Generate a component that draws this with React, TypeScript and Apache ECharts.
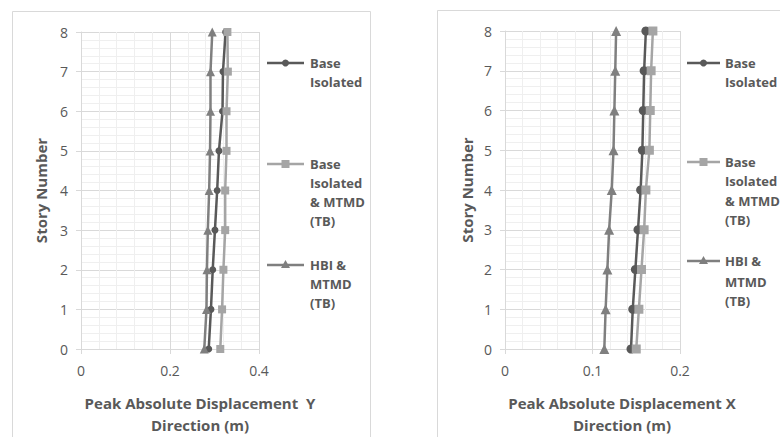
import React, { useEffect, useRef } from "react";
import * as echarts from "echarts";

const stories = [0, 1, 2, 3, 4, 5, 6, 7, 8];

// Left panel: Y direction (m)
const yBaseIsolated = [0.287, 0.292, 0.296, 0.301, 0.306, 0.310, 0.318, 0.319, 0.325];
const yBaseIsoMTMD = [0.313, 0.317, 0.320, 0.324, 0.324, 0.327, 0.327, 0.330, 0.329];
const yHBIMTMD = [0.277, 0.282, 0.283, 0.285, 0.288, 0.290, 0.291, 0.291, 0.295];

// Right panel: X direction (m)
const xBaseIsolated = [0.144, 0.146, 0.149, 0.152, 0.155, 0.157, 0.158, 0.159, 0.161];
const xBaseIsoMTMD = [0.150, 0.153, 0.156, 0.159, 0.161, 0.165, 0.166, 0.167, 0.169];
const xHBIMTMD = [0.1135, 0.115, 0.117, 0.119, 0.122, 0.124, 0.125, 0.126, 0.127];

const seriesNames = ["Base Isolated", "Base Isolated & MTMD (TB)", "HBI & MTMD (TB)"];
const legendLines = [["Base", "Isolated"], ["Base", "Isolated", "& MTMD", "(TB)"], ["HBI &", "MTMD", "(TB)"]];
const xTitleLeft = ["Peak Absolute Displacement  Y", "Direction (m)"];
const xTitleRight = ["Peak Absolute Displacement X", "Direction (m)"];
const yTitle = "Story Number";

const C1 = "#595959";
const C2 = "#A5A5A5";
const C3 = "#7F7F7F";
const colors = [C1, C2, C3];
const symbols = ["circle", "rect", "triangle"];
const FONT = "'Open Sans', sans-serif";
const TXT = "#595959";

function pairs(xs: number[]) {
  return xs.map((v, i) => [v, stories[i]]);
}

function makeAxes(idx: number, max: number, interval: number, gap: number) {
  const x = {
    type: "value",
    gridIndex: idx,
    min: 0,
    max,
    interval,
    axisLine: { show: true, lineStyle: { color: "#D9D9D9", width: 1 } },
    axisTick: { show: true, length: 5, lineStyle: { color: "#D9D9D9" } },
    axisLabel: { color: TXT, fontFamily: FONT, fontSize: 14, margin: 14, formatter: (v: number) => String(+v.toFixed(2)) },
    splitLine: { show: true, lineStyle: { color: "#D9D9D9", width: 1 } },
    minorTick: { show: false, splitNumber: 5 },
    minorSplitLine: { show: true, lineStyle: { color: "#EFEFEF", width: 1 } },
  };
  const y = {
    type: "value",
    gridIndex: idx,
    min: 0,
    max: 8,
    interval: 1,
    name: yTitle,
    nameLocation: "middle",
    nameRotate: 90,
    nameGap: gap,
    nameTextStyle: { color: TXT, fontFamily: FONT, fontSize: 15, fontWeight: "bold" },
    axisLine: { show: true, lineStyle: { color: "#D9D9D9", width: 1 } },
    axisTick: { show: true, length: 5, lineStyle: { color: "#D9D9D9" } },
    axisLabel: { color: TXT, fontFamily: FONT, fontSize: 14, margin: 13 },
    splitLine: { show: true, lineStyle: { color: "#D9D9D9", width: 1 } },
    minorTick: { show: false, splitNumber: 5 },
    minorSplitLine: { show: true, lineStyle: { color: "#EFEFEF", width: 1 } },
  };
  return { x, y };
}

function legendGraphics(x0: number, x1: number, tx: number, ys: number[][]) {
  const out: any[] = [];
  const cx = (x0 + x1) / 2;
  ys.forEach((rows, i) => {
    const ly = rows[0];
    out.push({ type: "line", shape: { x1: x0, y1: ly, x2: x1, y2: ly }, style: { stroke: colors[i], lineWidth: 2.5 } });
    if (i === 0) out.push({ type: "circle", shape: { cx, cy: ly, r: 3.5 }, style: { fill: colors[i] } });
    if (i === 1) out.push({ type: "rect", shape: { x: cx - 4, y: ly - 4, width: 8, height: 8 }, style: { fill: colors[i] } });
    if (i === 2) out.push({ type: "polygon", shape: { points: [[cx, ly - 5], [cx + 4.5, ly + 3], [cx - 4.5, ly + 3]] }, style: { fill: colors[i] } });
    legendLines[i].forEach((t, j) => {
      out.push({
        type: "text",
        x: tx,
        y: rows[j],
        style: { text: t, fill: TXT, font: `bold 13px ${FONT}`, verticalAlign: "middle", textAlign: "left" },
      });
    });
  });
  return out;
}

function titleGraphics(cx: number, lines: string[]) {
  return lines.map((t, j) => ({
    type: "text",
    x: cx,
    y: j === 0 ? 403 : 425,
    style: { text: t, fill: TXT, font: `bold 15px ${FONT}`, verticalAlign: "middle", textAlign: "center" },
  }));
}

export default function App() {
  const ref = useRef<HTMLDivElement>(null);
  useEffect(() => {
    if (!ref.current) return;
    const chart = echarts.init(ref.current, undefined, { renderer: "svg" });
    const a0 = makeAxes(0, 0.4, 0.2, 33);
    const a1 = makeAxes(1, 0.2, 0.1, 31);
    const leftData = [yBaseIsolated, yBaseIsoMTMD, yHBIMTMD];
    const rightData = [xBaseIsolated, xBaseIsoMTMD, xHBIMTMD];
    const mk = (data: number[][], gi: number, sizes: number[]) =>
      data.map((d, i) => ({
        name: seriesNames[i],
        type: "line",
        xAxisIndex: gi,
        yAxisIndex: gi,
        data: pairs(d),
        symbol: symbols[i],
        symbolSize: sizes[i],
        showSymbol: true,
        lineStyle: { color: colors[i], width: 2.5 },
        itemStyle: { color: colors[i] },
        z: 3 + i,
      }));
    chart.setOption({
      animation: false,
      backgroundColor: "#ffffff",
      grid: [
        { left: 81, top: 32, width: 178, height: 317 },
        { left: 505, top: 31, width: 175, height: 318 },
      ],
      xAxis: [a0.x, a1.x],
      yAxis: [a0.y, a1.y],
      series: [...mk(leftData, 0, [7, 8, 9]), ...mk(rightData, 1, [9, 9, 10])],
      graphic: [
        { type: "rect", shape: { x: 12.5, y: 11.5, width: 358, height: 440 }, style: { fill: "none", stroke: "#D9D9D9", lineWidth: 1 }, silent: true },
        { type: "rect", shape: { x: 437.5, y: 10.5, width: 360, height: 440 }, style: { fill: "none", stroke: "#D9D9D9", lineWidth: 1 }, silent: true },
        ...legendGraphics(267, 304, 310, [[63, 82], [164, 183, 202, 221], [265, 284, 303]]),
        ...legendGraphics(687, 720, 725, [[63, 82], [162, 181, 201, 220], [261, 282, 301]]),
        ...titleGraphics(200, xTitleLeft),
        ...titleGraphics(622, xTitleRight),
      ],
    });
    return () => chart.dispose();
  }, []);
  return <div ref={ref} style={{ position: "fixed", left: 0, top: 0, width: 780, height: 437 }} />;
}
